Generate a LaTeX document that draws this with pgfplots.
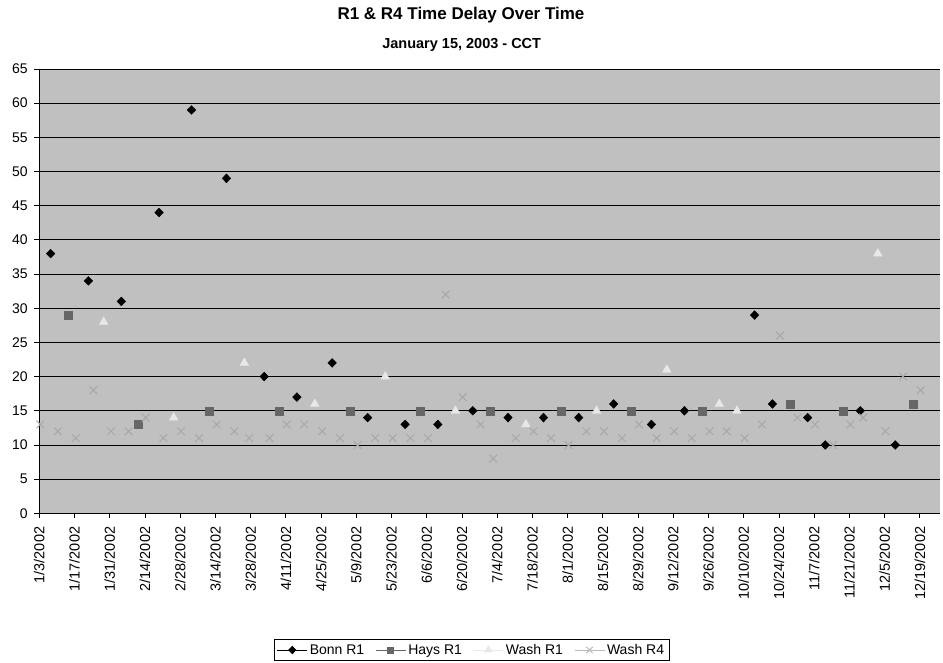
\documentclass[border=0pt]{standalone}
\usepackage{fontspec}
\setmainfont{Liberation Sans}
\usepackage{pgfplots}
\pgfplotsset{compat=1.18}

\definecolor{plotbg}{RGB}{192,192,192}
\definecolor{haysgray}{RGB}{102,102,102}
\definecolor{washlight}{RGB}{232,232,232}
\definecolor{washx}{RGB}{168,168,168}

\begin{document}
\begin{tikzpicture}
\useasboundingbox (-39.3pt,-148.7pt) rectangle (903.7pt,513.3pt);
\begin{axis}[
    scale only axis,
    width=900.7pt, height=444.3pt,
    xmin=0, xmax=358, ymin=0, ymax=65,
    axis lines*=left,
    axis line style={-, black, line width=0.8pt},
    axis background/.style={fill=plotbg},
    clip=false,
    ytick={0,5,...,65},
    xtick={0,14,...,350},
    xticklabels={1/3/2002,1/17/2002,1/31/2002,2/14/2002,2/28/2002,3/14/2002,3/28/2002,4/11/2002,4/25/2002,5/9/2002,5/23/2002,6/6/2002,6/20/2002,7/4/2002,7/18/2002,8/1/2002,8/15/2002,8/29/2002,9/12/2002,9/26/2002,10/10/2002,10/24/2002,11/7/2002,11/21/2002,12/5/2002,12/19/2002},
    tick align=outside,
    major tick length=5pt,
    tick style={black, line width=0.8pt},
    ymajorgrids,
    major grid style={black, line width=0.8pt},
    /pgf/number format/assume math mode=true,
    yticklabel style={font=\fontsize{14}{16}\selectfont},
    yticklabel shift=3pt,
    xticklabel style={font=\fontsize{14.5}{16}\selectfont, rotate=90, anchor=east},
    xticklabel shift=5pt,
    legend columns=4,
    legend style={at={(0.4798,-0.3077)}, anchor=center, draw=black, fill=white,
        font=\fontsize{14}{16}\selectfont, inner xsep=3pt, inner ysep=2.5pt,
        /tikz/every even column/.append style={column sep=9pt}},
    legend image code/.code={\draw[mark repeat=2,mark phase=2,#1] plot coordinates {(0pt,0pt) (15pt,0pt) (30pt,0pt)};},
]
% legend entries (line + marker, as in the original key)
\addlegendimage{black, line width=1pt, mark=diamond*, mark size=3.5pt, mark options={xscale=1.3}}
\addlegendentry{Bonn R1}
\addlegendimage{haysgray, line width=1pt, mark=square*, mark size=3pt}
\addlegendentry{Hays R1}
\addlegendimage{washlight, line width=1pt, mark=triangle*, mark size=3.8pt}
\addlegendentry{Wash R1}
\addlegendimage{washx!80, line width=1pt, mark=x, mark size=4.5pt}
\addlegendentry{Wash R4}

% Bonn R1
\addplot[only marks, mark=diamond*, mark size=4.4pt, mark options={xscale=1.3}, black, forget plot] coordinates {
(4.5,38) (19.5,34) (32.6,31) (47.6,44) (60.5,59) (74.4,49) (89.4,20) (102.4,17)
(116.4,22) (130.5,14) (145.4,13) (158.4,13) (172.3,15) (186.3,14) (200.4,14)
(214.4,14) (228.3,16) (243.3,13) (256.4,15) (284.3,29) (291.4,16) (305.4,14)
(312.4,10) (326.3,15) (340.2,10)};

% Hays R1
\addplot[only marks, mark=square*, mark size=4pt, haysgray, forget plot] coordinates {
(11.5,29) (39.5,13) (67.4,15) (95.5,15) (123.4,15) (151.4,15) (179.3,15)
(207.4,15) (235.4,15) (263.4,15) (298.4,16) (319.4,15) (347.2,16)};

% Wash R1
\addplot[only marks, mark=triangle*, mark size=5pt, washlight, forget plot] coordinates {
(25.6,28) (53.4,14) (81.5,22) (109.5,16) (137.5,20) (165.4,15) (193.4,13)
(221.5,15) (249.4,21) (270.3,16) (277.3,15) (333.3,38)};

% Wash R4
\addplot[only marks, mark=x, mark size=5.4pt, washx, line width=1pt, forget plot] coordinates {
(0.4,13) (7.4,12) (14.5,11) (21.5,18) (28.5,12) (35.5,12) (42.3,14) (49.3,11)
(56.3,12) (63.5,11) (70.5,13) (77.5,12) (83.4,11) (91.5,11) (98.3,13) (105.3,13)
(112.4,12) (119.5,11) (126.5,10) (133.5,11) (140.5,11) (147.5,11) (154.5,11)
(161.5,32) (168.3,17) (175.4,13) (180.4,8) (189.4,11) (196.4,12) (203.4,11)
(210.4,10) (217.5,12) (224.4,12) (231.6,11) (238.4,13) (245.4,11) (252.3,12)
(259.3,11) (266.4,12) (273.2,12) (280.4,11) (287.2,13) (294.4,26) (301.3,14)
(308.3,13) (315.5,10) (322.4,13) (327.4,14) (336.3,12) (343.3,20) (350.3,18)};
\end{axis}
\node[font=\bfseries\fontsize{17}{20}\selectfont] at (421.7pt,498.3pt) {R1 \& R4 Time Delay Over Time};
\node[font=\bfseries\fontsize{14.5}{17}\selectfont] at (422.4pt,468.8pt) {January 15, 2003 - CCT};
\end{tikzpicture}
\end{document}
